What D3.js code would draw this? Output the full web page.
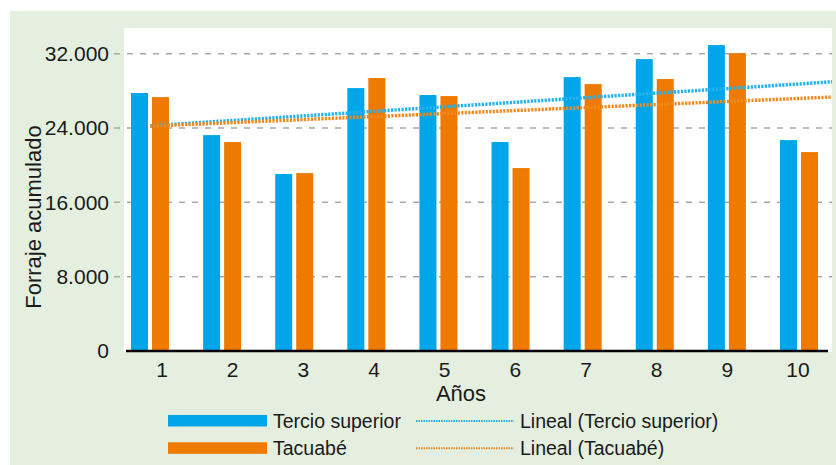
<!DOCTYPE html>
<html>
<head>
<meta charset="utf-8">
<script src="https://cdn.jsdelivr.net/npm/d3@7"></script>
<style>
  body { margin: 0; background: #fff; }
  svg { display: block; font-family: "Liberation Sans", Arial, sans-serif; }
</style>
</head>
<body>
<div id="chart"></div>
<script>
// data
const years = ["1", "2", "3", "4", "5", "6", "7", "8", "9", "10"];
const tercioSuperior = [27770, 23240, 19050, 28300, 27550, 22490, 29480, 31420, 32930, 22700];
const tacuabe = [27330, 22490, 19150, 29380, 27440, 19690, 28730, 29270, 32060, 21410];
const yTicks = [0, 8000, 16000, 24000, 32000];

const width = 836, height = 465;
const plot = { left: 124, top: 28, right: 832, bottom: 352 };
const blue = "#00a6e9", orange = "#ee7a00";
const blueLine = "#22b2ee", orangeLine = "#f08a1e";

const series = [
  { name: "Tercio superior", values: tercioSuperior, color: blue, line: blueLine },
  { name: "Tacuabé", values: tacuabe, color: orange, line: orangeLine }
];

const svg = d3.select("#chart").append("svg")
  .attr("width", width)
  .attr("height", height);

svg.append("rect")
  .attr("x", 10).attr("y", 11)
  .attr("width", width - 10).attr("height", height - 11)
  .attr("fill", "#e4efdf");

svg.append("rect")
  .attr("x", plot.left).attr("y", plot.top)
  .attr("width", plot.right - plot.left).attr("height", plot.bottom - plot.top)
  .attr("fill", "#fff");

const y = d3.scaleLinear().domain([0, 32000]).range([351, 53.7]);
const x0 = d3.scalePoint().domain(years).range([150, 799]);
const x1 = d3.scaleBand().domain(series.map(s => s.name)).range([-19, 19]).paddingInner(0.19);
const xLabel = d3.scalePoint().domain(years).range([162, 798]);
const xLin = d3.scaleLinear().domain([1, 10]).range([150, 799]);

const fmt = v => d3.format(",")(v).replace(/,/g, ".");

// gridlines
svg.append("g")
  .selectAll("line")
  .data(yTicks.filter(d => d > 0))
  .join("line")
  .attr("x1", 114).attr("x2", plot.right)
  .attr("y1", d => y(d)).attr("y2", d => y(d))
  .attr("stroke", "#a8a8a8")
  .attr("stroke-width", 1.5)
  .attr("stroke-dasharray", "6,7");

// y tick labels
svg.append("g")
  .selectAll("text")
  .data(yTicks)
  .join("text")
  .attr("x", 109)
  .attr("y", d => y(d))
  .attr("dy", "0.35em")
  .attr("text-anchor", "end")
  .attr("font-size", 21)
  .attr("fill", "#1a1a1a")
  .text(fmt);

// bars
series.forEach(s => {
  svg.append("g")
    .selectAll("rect")
    .data(s.values)
    .join("rect")
    .attr("x", (d, i) => x0(years[i]) + x1(s.name))
    .attr("width", x1.bandwidth())
    .attr("y", d => y(d))
    .attr("height", d => y(0) - y(d))
    .attr("fill", s.color);
});

// linear trend lines (least squares on the series)
svg.append("clipPath").attr("id", "plotclip")
  .append("rect")
  .attr("x", plot.left).attr("y", plot.top)
  .attr("width", plot.right - plot.left).attr("height", plot.bottom - plot.top);

const xEnd = xLin.invert(plot.right);
series.forEach(s => {
  const xs = s.values.map((d, i) => i + 1);
  const mx = d3.mean(xs), my = d3.mean(s.values);
  const slope = d3.sum(xs, (xv, i) => (xv - mx) * (s.values[i] - my)) / d3.sum(xs, xv => (xv - mx) ** 2);
  const b = my - slope * mx;
  const pts = [1, xEnd].map(xv => [xLin(xv), y(b + slope * xv)]);
  svg.append("path")
    .attr("clip-path", "url(#plotclip)")
    .attr("d", d3.line()(pts))
    .attr("fill", "none")
    .attr("stroke", s.line)
    .attr("stroke-width", 3.5)
    .attr("stroke-dasharray", "2.2,1.3");
});

// x axis line
svg.append("line")
  .attr("x1", 126).attr("x2", 828)
  .attr("y1", 351).attr("y2", 351)
  .attr("stroke", "#000")
  .attr("stroke-width", 2.6);

// x tick labels
svg.append("g")
  .selectAll("text")
  .data(years)
  .join("text")
  .attr("x", d => xLabel(d))
  .attr("y", 377)
  .attr("text-anchor", "middle")
  .attr("font-size", 21)
  .attr("fill", "#1a1a1a")
  .text(d => d);

// axis titles
svg.append("text")
  .attr("x", 461).attr("y", 401)
  .attr("text-anchor", "middle")
  .attr("font-size", 22)
  .attr("fill", "#1a1a1a")
  .text("Años");

svg.append("text")
  .attr("transform", "translate(41,217) rotate(-90)")
  .attr("text-anchor", "middle")
  .attr("font-size", 22)
  .attr("fill", "#1a1a1a")
  .text("Forraje acumulado");

// legend
const legend = svg.append("g");
series.forEach((s, i) => {
  const ly = 421 + i * 27.3;
  legend.append("rect")
    .attr("x", 168).attr("y", ly - 6)
    .attr("width", 99).attr("height", 11.5)
    .attr("fill", s.color);
  legend.append("text")
    .attr("x", 273).attr("y", ly)
    .attr("dy", "0.35em")
    .attr("font-size", 19.5)
    .attr("fill", "#1a1a1a")
    .text(s.name);
  legend.append("line")
    .attr("x1", 416).attr("x2", 514)
    .attr("y1", ly).attr("y2", ly)
    .attr("stroke", s.line)
    .attr("stroke-width", 2)
    .attr("stroke-dasharray", "1.5,1");
  legend.append("text")
    .attr("x", 520).attr("y", ly)
    .attr("dy", "0.35em")
    .attr("font-size", 19.5)
    .attr("fill", "#1a1a1a")
    .text("Lineal (" + s.name + ")");
});
</script>
</body>
</html>
